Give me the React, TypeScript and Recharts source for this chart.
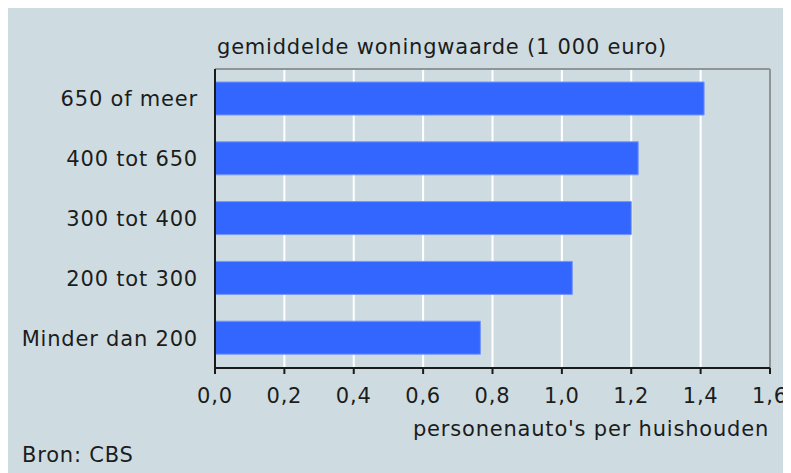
import React from "react";
import {
  BarChart,
  Bar,
  XAxis,
  YAxis,
  CartesianGrid,
  ReferenceLine,
} from "recharts";

const categories = [
  "650 of meer",
  "400 tot 650",
  "300 tot 400",
  "200 tot 300",
  "Minder dan 200",
];
const carsPerHousehold = [1.41, 1.22, 1.2, 1.03, 0.765];
const xTicks = [0, 0.2, 0.4, 0.6, 0.8, 1.0, 1.2, 1.4, 1.6];

const data = categories.map((name, i) => ({ name, value: carsPerHousehold[i] }));

const font = "'DejaVu Sans', Verdana, sans-serif";
const textColor = "#1c1c1c";
const tickStyle = { fontSize: 21, fill: textColor, fontFamily: font, letterSpacing: 0.8 };

const textBase: React.CSSProperties = {
  position: "absolute",
  fontFamily: font,
  fontSize: 21,
  lineHeight: "21px",
  letterSpacing: 0.8,
  color: textColor,
  whiteSpace: "nowrap",
};

export default function App() {
  return (
    <div
      style={{
        position: "relative",
        width: 783,
        height: 465,
        background: "#cedce1",
      }}
    >
      <BarChart
        width={783}
        height={465}
        data={data}
        layout="vertical"
        margin={{ top: 60, right: 21, bottom: 65, left: 0 }}
        barSize={33}
      >
        <CartesianGrid horizontal={false} stroke="#ffffff" strokeWidth={2} />
        <XAxis
          type="number"
          domain={[0, 1.6]}
          ticks={xTicks}
          interval={0}
          height={40}
          tickFormatter={(v: number) => v.toFixed(1).replace(".", ",")}
          tick={tickStyle}
          tickSize={6}
          tickMargin={14}
          axisLine={{ stroke: "#1a1a1a", strokeWidth: 2 }}
          tickLine={{ stroke: "#1a1a1a", strokeWidth: 2 }}
        />
        <XAxis
          xAxisId="top"
          type="number"
          orientation="top"
          domain={[0, 1.6]}
          height={1}
          tick={false}
          tickLine={false}
          axisLine={{ stroke: "#8f9496", strokeWidth: 2 }}
        />
        <YAxis
          type="category"
          dataKey="name"
          width={207}
          tick={tickStyle}
          tickLine={false}
          tickMargin={11}
          axisLine={{ stroke: "#1a1a1a", strokeWidth: 2 }}
        />
        <ReferenceLine x={1.6} stroke="#8f9496" strokeWidth={2} />
        <Bar
          dataKey="value"
          fill="#3366ff"
          stroke="#7595ff"
          strokeWidth={1}
          isAnimationActive={false}
        />
      </BarChart>
      <div style={{ ...textBase, left: 209, top: 29 }}>
        gemiddelde woningwaarde (1 000 euro)
      </div>
      <div style={{ ...textBase, right: 22, top: 411 }}>
        personenauto's per huishouden
      </div>
      <div style={{ ...textBase, left: 14, top: 437 }}>Bron: CBS</div>
    </div>
  );
}
